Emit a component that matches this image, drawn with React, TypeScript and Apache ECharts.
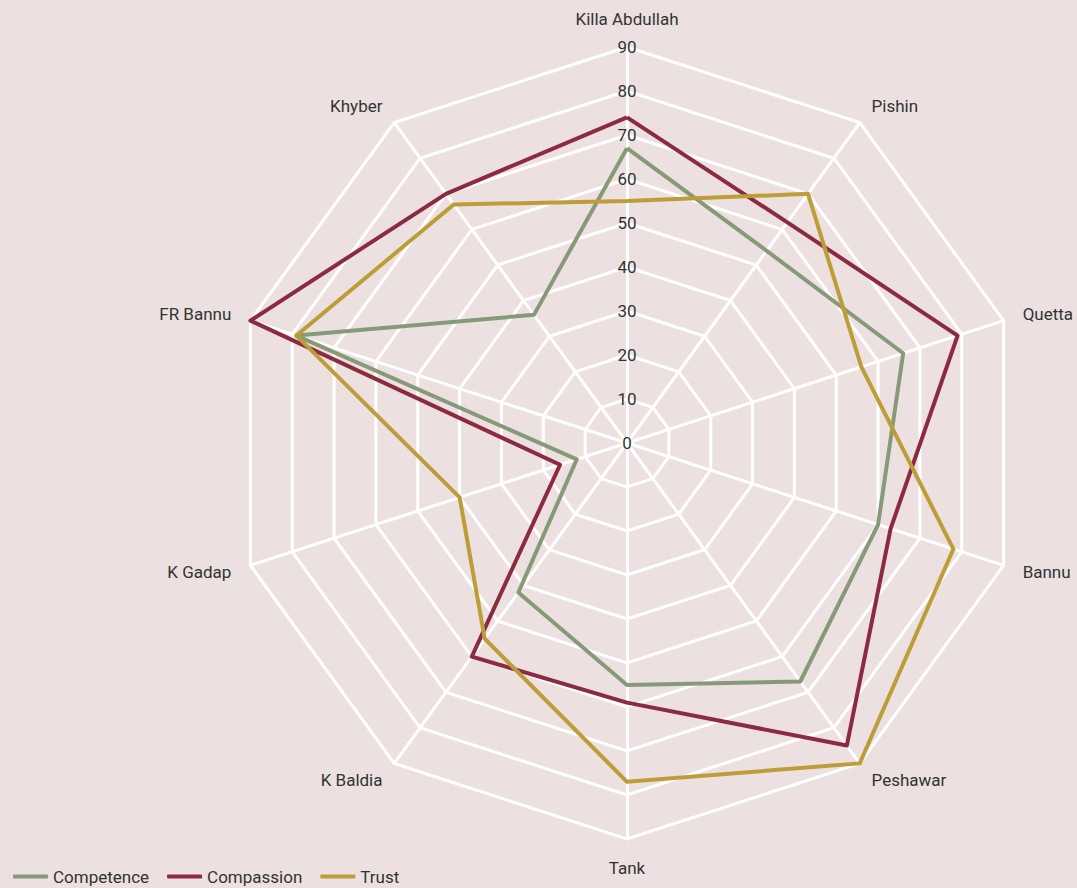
import React, { useEffect, useRef } from "react";
import * as echarts from "echarts";

const categories = ["Killa Abdullah", "Pishin", "Quetta", "Bannu", "Peshawar", "Tank", "K Baldia", "K Gadap", "FR Bannu", "Khyber"];
const competence = [67, 54, 66, 60, 67, 55, 42, 12, 79, 36];
const compassion = [74, 62, 79, 63, 85, 59, 60, 16, 90, 70];
const trust = [55, 70, 56, 78, 90, 77, 55, 40, 79, 67];
const seriesNames = ["Competence", "Compassion", "Trust"];
const colors = ["#879a78", "#8c2a3f", "#bd9d38"];
const maxValue = 90;
const tickStep = 10;

const FONT = "Roboto, 'Noto Sans', sans-serif";

// ECharts draws radar indicators counter-clockwise; reorder so the picture runs clockwise.
const order = [0, ...Array.from({ length: categories.length - 1 }, (_, i) => categories.length - 1 - i)];
const reorder = (arr: any[]) => order.map((i) => arr[i]);

export default function App() {
  const ref = useRef<HTMLDivElement>(null);
  useEffect(() => {
    document.body.style.margin = "0";
    const chart = echarts.init(ref.current!, null, { renderer: "svg" });
    const cx = 627, cy = 443, r = 396;
    chart.setOption({
      animation: false,
      backgroundColor: "#ece1e0",
      textStyle: { fontFamily: FONT },
      legend: {
        left: 8,
        top: 863,
        itemWidth: 35,
        itemHeight: 4,
        itemGap: 18,
        icon: "roundRect",
        data: seriesNames,
        textStyle: { fontFamily: FONT, fontSize: 17, color: "#333" },
      },
      grid: { left: cx, top: cy - r, height: r, width: 10 },
      xAxis: { type: "value", show: false },
      yAxis: {
        type: "value",
        min: 0,
        max: maxValue,
        interval: tickStep,
        axisLine: { show: false },
        axisTick: { show: false },
        splitLine: { show: false },
        axisLabel: { align: "center", margin: 0, fontFamily: FONT, fontSize: 17, color: "#333" },
      },
      radar: {
        center: [cx, cy],
        radius: r,
        shape: "polygon",
        splitNumber: maxValue / tickStep,
        indicator: reorder(categories).map((name) => ({ name, min: 0, max: maxValue })),
        axisName: { color: "#333", fontFamily: FONT, fontSize: 17 },
        nameGap: 20,
        splitLine: { lineStyle: { color: "#ffffff", width: 3 } },
        axisLine: { lineStyle: { color: "#ffffff", width: 3 } },
        splitArea: { show: false },
        axisLabel: { show: false },
      },
      series: [
        {
          type: "radar",
          symbol: "none",
          data: [competence, compassion, trust].map((vals, i) => ({
            name: seriesNames[i],
            value: reorder(vals),
            lineStyle: { color: colors[i], width: 4 },
            itemStyle: { color: colors[i] },
          })),
        },
      ],
    });
    return () => chart.dispose();
  }, []);
  return <div ref={ref} style={{ width: 1077, height: 888 }} />;
}
